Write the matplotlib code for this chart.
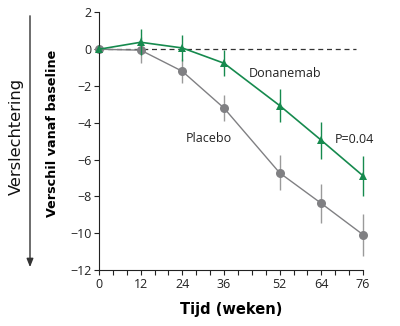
import matplotlib
matplotlib.use("Agg")
import matplotlib.pyplot as plt

weeks = [0, 12, 24, 36, 52, 64, 76]
placebo = [0.0, -0.05, -1.2, -3.2, -6.72, -8.38, -10.08]
placebo_err = [0.0, 0.7, 0.65, 0.7, 0.95, 1.05, 1.15]
donanemab = [0.0, 0.38, 0.07, -0.76, -3.06, -4.95, -6.88]
donanemab_err = [0.0, 0.72, 0.72, 0.72, 0.92, 1.0, 1.1]
xticks = [0, 12, 24, 36, 52, 64, 76]
yticks = [2, 0, -2, -4, -6, -8, -10, -12]

green = "#168a4e"
grey = "#808083"

plt.rcParams['font.family'] = ['Open Sans', 'DejaVu Sans']

fig = plt.figure(figsize=(4.0, 3.26), dpi=100)
ax = fig.add_axes([0.2475, 0.1718, 0.66, 0.79])

ax.plot([0, 74], [0, 0], ls=(0, (4, 3)), color="#333333", lw=0.9, zorder=1)

ax.errorbar(weeks, placebo, yerr=placebo_err, color=grey, ecolor="#9a9a9a",
            lw=1.0, elinewidth=1.0, capsize=2, capthick=1.0,
            marker="o", markersize=6.5, markeredgewidth=0, zorder=2, clip_on=False)
ax.errorbar(weeks, donanemab, yerr=donanemab_err, color=green, ecolor=green,
            lw=1.2, elinewidth=1.0, capsize=2, capthick=1.0,
            marker="^", markersize=6, markeredgewidth=0, zorder=3, clip_on=False)

ax.text(43, -1.3, "Donanemab", fontsize=9, va="center", ha="left", color="#222222")
ax.text(25, -4.85, "Placebo", fontsize=9, va="center", ha="left", color="#222222")
ax.text(68, -4.9, "P=0.04", fontsize=9, va="center", ha="left", color="#222222")

ax.set_xlim(0, 76)
ax.set_ylim(-12, 2)
ax.set_xticks(xticks)
ax.set_xticks(list(range(0, 77, 4)), minor=True)
ax.set_yticks(yticks)
ax.set_yticklabels([str(t).replace('-', '\u2212') for t in yticks])
ax.tick_params(axis='both', which='both', direction='out', length=3.5, width=0.8,
               labelsize=9, colors="#222222", pad=2)
for s in ['top', 'right']:
    ax.spines[s].set_visible(False)
for s in ['left', 'bottom']:
    ax.spines[s].set_linewidth(0.8)
    ax.spines[s].set_color("#222222")

ax.set_xlabel("Tijd (weken)", fontsize=10.5, fontweight='bold', labelpad=8,
              family=['DejaVu Sans'])
ax.set_ylabel("Verschil vanaf baseline", fontsize=9.2, fontweight='bold',
              family=['DejaVu Sans'], va='center')
ax.yaxis.set_label_coords(-0.178, 0.53)

fig.text(0.042, 0.58, "Verslechtering", rotation=90, fontsize=11.7,
         ha='center', va='center', color="#111111", family=['DejaVu Sans'])
fig.add_artist(matplotlib.patches.FancyArrowPatch(
    (0.075, 0.96), (0.075, 0.172), transform=fig.transFigure,
    arrowstyle='-|>,head_length=5,head_width=2', color="#333333", lw=1.0,
    mutation_scale=1))

fig.savefig("out.png", dpi=100, facecolor="white")
